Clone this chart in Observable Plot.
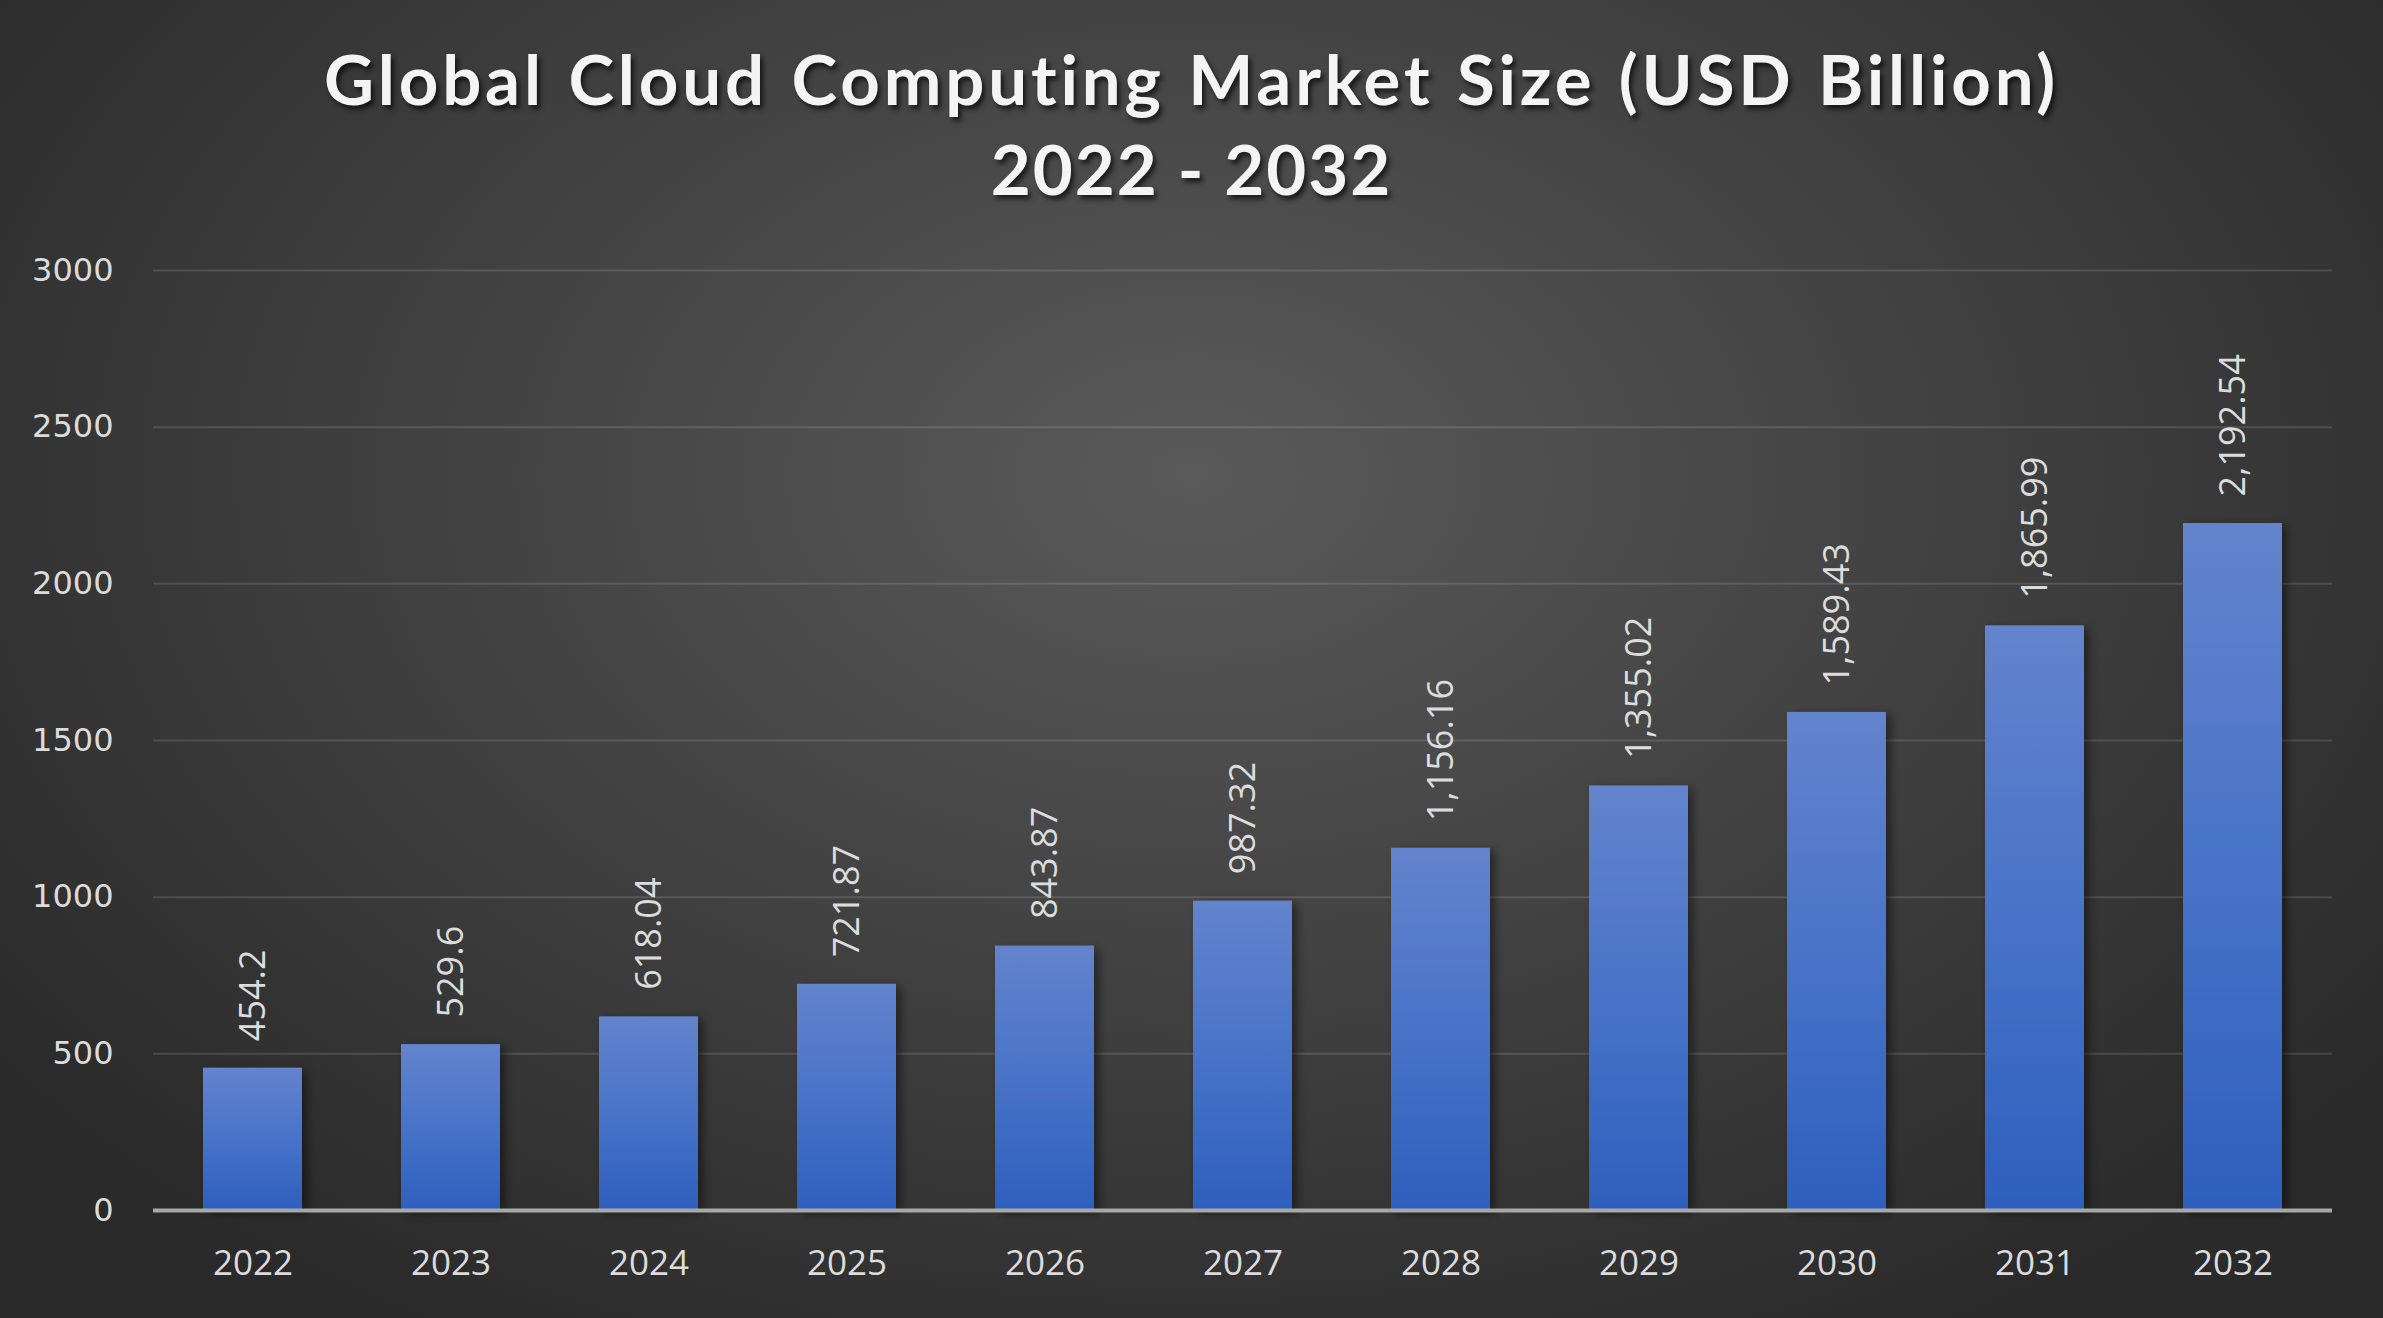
<!DOCTYPE html>
<html>
<head>
<meta charset="utf-8">
<script src="https://cdn.jsdelivr.net/npm/d3@7"></script>
<script src="https://cdn.jsdelivr.net/npm/@observablehq/plot@0.6"></script>
<style>
  html, body { margin: 0; padding: 0; }
  #wrap {
    position: relative; width: 2383px; height: 1318px; overflow: hidden;
    background: radial-gradient(ellipse 62% 75% at 50% 36%, #5a5a5a 0%, #444 45%, #2a2a2a 100%);
  }
  #title {
    position: absolute; left: 0; top: 0; width: 2383px; height: 200px;
    text-align: center; color: #f4f4f4;
    font-family: Lato, "Open Sans", sans-serif; font-weight: 700;
    font-size: 69px; line-height: 90px; letter-spacing: 3.8px; word-spacing: 3px;
    padding-top: 34px; box-sizing: border-box;
    text-shadow: 3px 4px 5px rgba(0,0,0,0.65);
  }
  #title .l2 { letter-spacing: 2px; word-spacing: 0; }
  #chart { position: absolute; left: 0; top: 200px; }
</style>
</head>
<body>
<div id="wrap">
  <div id="title">Global Cloud Computing Market Size (USD Billion)<br><span class="l2">2022 - 2032</span></div>
  <div id="chart"></div>
</div>
<script>
const years = ["2022","2023","2024","2025","2026","2027","2028","2029","2030","2031","2032"];
const values = [454.2, 529.6, 618.04, 721.87, 843.87, 987.32, 1156.16, 1355.02, 1589.43, 1865.99, 2192.54];
const yTicks = [0, 500, 1000, 1500, 2000, 2500, 3000];

const data = years.map((y, i) => ({year: y, value: values[i]}));
const fmt = d3.format(",");

const svg = Plot.plot({
  width: 2383,
  height: 1118,
  marginTop: 70,
  marginBottom: 108,
  marginLeft: 153,
  marginRight: 51,
  style: {background: "transparent", overflow: "visible"},
  x: {domain: years, paddingInner: 0.5, paddingOuter: 0.25, axis: null},
  y: {domain: [0, 3000], axis: null},
  marks: [
    Plot.ruleY(yTicks.filter(d => d > 0), {stroke: "#ffffff", strokeOpacity: 0.13, strokeWidth: 2}),
    Plot.barY(data, {x: "year", y: "value", fill: "url(#barGrad)"}),
    Plot.ruleY([0], {stroke: "#a8a8a8", strokeWidth: 4}),
    Plot.text(data, {
      x: "year", y: "value", text: d => fmt(d.value),
      rotate: -90, textAnchor: "start", lineAnchor: "middle", dy: -27,
      fill: "#dcdcdc", fontSize: 36, fontFamily: "Open Sans"
    }),
    Plot.text(years, {
      x: d => d, text: d => d, frameAnchor: "bottom", dy: 53, lineAnchor: "middle",
      fill: "#dcdcdc", fontSize: 35, fontFamily: "Open Sans"
    }),
    Plot.text(yTicks, {
      y: d => d, text: d => String(d), frameAnchor: "left", dx: -40, textAnchor: "end",
      lineAnchor: "middle", fill: "#dcdcdc", fontSize: 32, fontFamily: "DejaVu Sans",
      letterSpacing: 1
    })
  ]
});

const s = d3.select(svg);
const defs = s.insert("defs", ":first-child");
const g = defs.append("linearGradient").attr("id", "barGrad").attr("x1", 0).attr("y1", 0).attr("x2", 0).attr("y2", 1);
g.append("stop").attr("offset", "0%").attr("stop-color", "#6384cd");
g.append("stop").attr("offset", "50%").attr("stop-color", "#4873c8");
g.append("stop").attr("offset", "100%").attr("stop-color", "#2e5fbd");
const f = defs.append("filter").attr("id", "barShadow").attr("x", "-20%").attr("y", "-5%").attr("width", "150%").attr("height", "115%");
f.append("feDropShadow").attr("dx", 5).attr("dy", 3).attr("stdDeviation", 5).attr("flood-color", "#000").attr("flood-opacity", 0.45);
s.selectAll("g[fill='url(#barGrad)']").attr("filter", "url(#barShadow)");

document.getElementById("chart").appendChild(svg);
</script>
</body>
</html>
